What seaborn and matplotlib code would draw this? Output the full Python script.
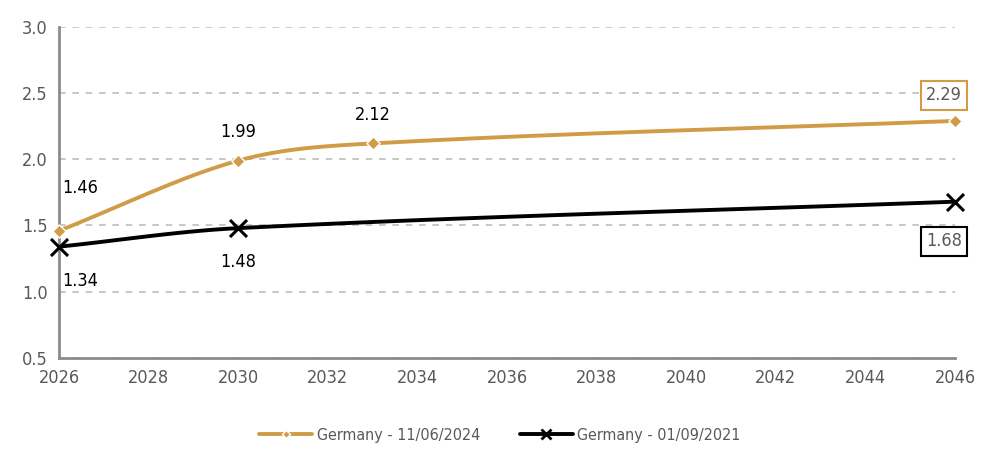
import numpy as np
import pandas as pd
import matplotlib
matplotlib.use("Agg")
import matplotlib.pyplot as plt
import seaborn as sns

# data
years_2024 = [2026, 2030, 2033, 2046]
vals_2024 = [1.46, 1.99, 2.12, 2.29]
years_2021 = [2026, 2030, 2046]
vals_2021 = [1.34, 1.48, 1.68]
label_2024 = "Germany - 11/06/2024"
label_2021 = "Germany - 01/09/2021"

GOLD = "#D09C48"
BLACK = "#000000"
GREY = "#595959"

sns.set_style("white")
plt.rcParams["font.family"] = ["DejaVu Sans"]
plt.rcParams["font.stretch"] = "condensed"


def smooth_path(x, y, n=60):
    # cubic hermite (catmull-rom style tangents), only used to draw the smoothed line
    x = np.asarray(x, float)
    y = np.asarray(y, float)
    h = np.diff(x)
    m = np.zeros_like(y)
    m[0] = (y[1] - y[0]) / h[0]
    m[-1] = (y[-1] - y[-2]) / h[-1]
    for k in range(1, len(x) - 1):
        m[k] = (y[k + 1] - y[k - 1]) / (x[k + 1] - x[k - 1])
    xs, ys = [], []
    for k in range(len(x) - 1):
        t = np.linspace(0, 1, n)
        h00 = 2 * t**3 - 3 * t**2 + 1
        h10 = t**3 - 2 * t**2 + t
        h01 = -2 * t**3 + 3 * t**2
        h11 = t**3 - t**2
        xs.append(x[k] + t * h[k])
        ys.append(h00 * y[k] + h10 * h[k] * m[k] + h01 * y[k + 1] + h11 * h[k] * m[k + 1])
    return np.concatenate(xs), np.concatenate(ys)


fig, ax = plt.subplots(figsize=(10, 4.49), dpi=100)
fig.subplots_adjust(left=0.059, right=0.955, bottom=0.203, top=0.94)

sx, sy = smooth_path(years_2024, vals_2024)
sns.lineplot(x=sx, y=sy, ax=ax, color=GOLD, linewidth=2.8, sort=False, estimator=None)
sx, sy = smooth_path(years_2021, vals_2021)
sns.lineplot(x=sx, y=sy, ax=ax, color=BLACK, linewidth=2.8, sort=False, estimator=None)

ax.scatter(years_2024, vals_2024, marker="D", s=45, color=GOLD, edgecolor="white",
           linewidth=1, zorder=5, clip_on=False)
ax.scatter(years_2021, vals_2021, marker="x", s=150, color=BLACK, linewidth=2.2,
           zorder=5, clip_on=False)

# data labels
lab_kw = dict(fontsize=13, color="black")
ax.annotate("1.46", (years_2024[0], vals_2024[0]), xytext=(2, 24), textcoords="offset points",
            ha="left", va="bottom", **lab_kw)
ax.annotate("1.99", (years_2024[1], vals_2024[1]), xytext=(0, 14), textcoords="offset points",
            ha="center", va="bottom", **lab_kw)
ax.annotate("2.12", (years_2024[2], vals_2024[2]), xytext=(0, 14), textcoords="offset points",
            ha="center", va="bottom", **lab_kw)
ax.annotate("2.29", (years_2024[3], vals_2024[3]), xytext=(-8, 12), textcoords="offset points",
            ha="center", va="bottom", fontsize=13, color=GREY,
            bbox=dict(boxstyle="square,pad=0.3", fc="white", ec=GOLD, lw=1.5))
ax.annotate("1.34", (years_2021[0], vals_2021[0]), xytext=(2, -18), textcoords="offset points",
            ha="left", va="top", **lab_kw)
ax.annotate("1.48", (years_2021[1], vals_2021[1]), xytext=(0, -18), textcoords="offset points",
            ha="center", va="top", **lab_kw)
ax.annotate("1.68", (years_2021[2], vals_2021[2]), xytext=(-8, -22), textcoords="offset points",
            ha="center", va="top", fontsize=13, color=GREY,
            bbox=dict(boxstyle="square,pad=0.3", fc="white", ec=BLACK, lw=1.5))

ax.set_xlim(2026, 2046)
ax.set_ylim(0.5, 3.0)
ax.set_xticks(range(2026, 2047, 2))
ax.set_yticks(np.arange(0.5, 3.01, 0.5))
ax.set_yticklabels([f"{v:.1f}" for v in np.arange(0.5, 3.01, 0.5)])
ax.yaxis.grid(True, linestyle=(0, (4, 4)), color="#BFBFBF", linewidth=1.2)
ax.xaxis.grid(False)
ax.set_axisbelow(True)

for side in ["top", "right"]:
    ax.spines[side].set_visible(False)
for side in ["left", "bottom"]:
    ax.spines[side].set_color("#8C8C8C")
    ax.spines[side].set_linewidth(2)
ax.tick_params(axis="both", direction="out", length=5, width=1.5, color="#8C8C8C",
               labelcolor=GREY, labelsize=13, pad=3)
ax.set_xlabel("")
ax.set_ylabel("")

handles = [
    plt.Line2D([], [], color=GOLD, linewidth=2.8, marker="D", markersize=4,
               markeredgecolor="white", markerfacecolor=GOLD),
    plt.Line2D([], [], color=BLACK, linewidth=2.8, marker="x", markersize=7, markeredgewidth=2),
]
fig.legend(handles, [label_2024, label_2021], loc="center", bbox_to_anchor=(0.5, 0.03),
           ncol=2, frameon=False, fontsize=11.5, labelcolor=GREY, handlelength=3.3,
           columnspacing=2.5, handletextpad=0.3)

fig.savefig("out.png", dpi=100)
